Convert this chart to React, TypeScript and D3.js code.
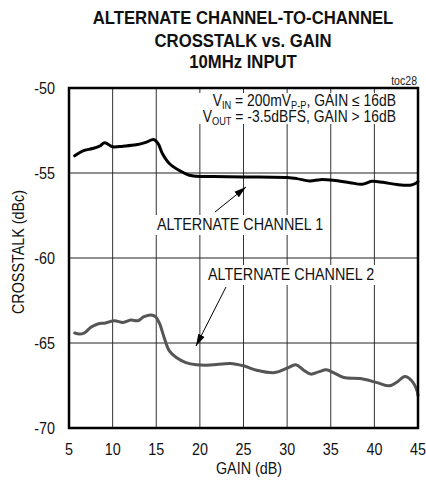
import React from "react";
import * as d3 from "d3";

const xTicks = [5, 10, 15, 20, 25, 30, 35, 40, 45];
const yTicks = [-50, -55, -60, -65, -70];

const ch1Gain = [5.65, 6.6, 7.7, 8.5, 9.1, 10.0, 11.2, 12.7, 13.8, 14.7, 15.2, 15.7, 16.5, 17.6, 18.8, 19.6, 21.5, 25.0, 30.0, 31.1, 32.6, 33.8, 35.3, 37.2, 38.6, 39.7, 41.0, 42.6, 44.1, 44.7, 45.0];
const ch1Val = [-53.99, -53.7, -53.56, -53.42, -53.22, -53.46, -53.42, -53.34, -53.2, -53.03, -53.26, -53.85, -54.44, -54.84, -55.13, -55.19, -55.2, -55.23, -55.27, -55.33, -55.47, -55.39, -55.43, -55.57, -55.66, -55.49, -55.55, -55.68, -55.72, -55.62, -55.5];

const ch2Gain = [5.65, 6.2, 6.75, 7.5, 8.3, 9.2, 10.2, 11.2, 12.1, 12.9, 13.6, 14.4, 14.9, 15.4, 15.9, 16.5, 17.3, 18.4, 19.6, 21.2, 23.5, 25.0, 26.5, 28.6, 30.0, 31.0, 31.9, 32.7, 33.6, 34.5, 35.3, 36.5, 38.4, 40.3, 41.7, 42.6, 43.5, 44.3, 44.9, 45.0];
const ch2Val = [-64.41, -64.47, -64.41, -64.08, -63.88, -63.82, -63.69, -63.79, -63.65, -63.69, -63.45, -63.35, -63.45, -63.88, -64.67, -65.46, -65.85, -66.15, -66.28, -66.3, -66.2, -66.34, -66.6, -66.74, -66.48, -66.28, -66.6, -66.83, -66.7, -66.58, -66.74, -67.03, -67.09, -67.33, -67.52, -67.29, -66.97, -67.23, -67.82, -68.1];

const W = 426;
const H = 491;
const M = { left: 69, right: 418, top: 88, bottom: 428 };
const FONT = "'Liberation Sans', Arial, sans-serif";
const SX = 0.88;

function NT(props: { x: number; y: number; size: number; anchor?: string; bold?: boolean; rotate?: number; sx?: number; children: React.ReactNode; fill?: string }) {
  const { x, y, size, anchor = "start", bold, rotate = 0, sx = SX, children, fill = "#111" } = props;
  return (
    <text
      transform={`translate(${x},${y})${rotate ? ` rotate(${rotate})` : ""} scale(${sx},1)`}
      fontSize={size}
      fontWeight={bold ? "bold" : "normal"}
      textAnchor={anchor}
      fill={fill}
    >
      {children}
    </text>
  );
}

export default function App() {
  const x = d3.scaleLinear().domain([5, 45]).range([M.left, M.right]);
  const y = d3.scaleLinear().domain([-70, -50]).range([M.bottom, M.top]);
  const line = d3
    .line<[number, number]>()
    .x((d) => x(d[0]))
    .y((d) => y(d[1]))
    .curve(d3.curveCatmullRom.alpha(0.5));
  const d1 = line(ch1Gain.map((g, i) => [g, ch1Val[i]] as [number, number])) || "";
  const d2 = line(ch2Gain.map((g, i) => [g, ch2Val[i]] as [number, number])) || "";

  return (
    <svg width={W} height={H} style={{ position: "absolute", left: 0, top: 0, background: "#fff" }} fontFamily={FONT}>
      <defs>
        <marker id="ah" viewBox="0 0 12 8" refX="12" refY="4" markerWidth="12" markerHeight="8" markerUnits="userSpaceOnUse" orient="auto">
          <path d="M0,0.5 L12,4 L0,7.5 Z" fill="#000" />
        </marker>
      </defs>
      <rect x={0} y={0} width={W} height={H} fill="#fff" />
      <NT x={243} y={24} size={19} bold anchor="middle">ALTERNATE CHANNEL-TO-CHANNEL</NT>
      <NT x={243} y={47} size={19} bold anchor="middle">CROSSTALK vs. GAIN</NT>
      <NT x={243} y={68} size={19} bold anchor="middle">10MHz INPUT</NT>
      <NT x={417} y={85} size={12} anchor="end" fill="#222">toc28</NT>

      {xTicks.slice(1, -1).map((t) => (
        <line key={"vx" + t} x1={x(t)} x2={x(t)} y1={M.top} y2={M.bottom} stroke="#333" strokeWidth={1} />
      ))}
      {yTicks.slice(1, -1).map((t) => (
        <line key={"hy" + t} x1={M.left} x2={M.right} y1={y(t)} y2={y(t)} stroke="#222" strokeWidth={1} />
      ))}

      {/* annotation backgrounds */}
      <rect x={196} y={93} width={202} height={31} fill="#fff" />
      <rect x={154} y={215} width={174} height={20} fill="#fff" />
      <rect x={205} y={265} width={176} height={20} fill="#fff" />

      <NT x={396} y={106} size={15.8} anchor="end">
        V<tspan fontSize={10.5} dy={2.5}>IN</tspan>
        <tspan dy={-2.5}> = 200mV</tspan>
        <tspan fontSize={10.5} dy={2.5}>P-P</tspan>
        <tspan dy={-2.5}>, GAIN ≤ 16dB</tspan>
      </NT>
      <NT x={396} y={122} size={15.8} anchor="end">
        V<tspan fontSize={10.5} dy={2.5}>OUT</tspan>
        <tspan dy={-2.5}> = -3.5dBFS, GAIN &gt; 16dB</tspan>
      </NT>

      <NT x={157} y={230} size={16.3}>ALTERNATE CHANNEL 1</NT>
      <NT x={208} y={280} size={16.3}>ALTERNATE CHANNEL 2</NT>
      <line x1={215} y1={212} x2={246} y2={187} stroke="#000" strokeWidth={1} markerEnd="url(#ah)" />
      <line x1={226} y1={287} x2={196} y2={346} stroke="#000" strokeWidth={1} markerEnd="url(#ah)" />

      <path d={d2} fill="none" stroke="#555" strokeWidth={3} strokeLinejoin="round" strokeLinecap="round" />
      <path d={d1} fill="none" stroke="#000" strokeWidth={3} strokeLinejoin="round" strokeLinecap="round" />

      <rect x={M.left} y={M.top} width={M.right - M.left} height={M.bottom - M.top} fill="none" stroke="#000" strokeWidth={2.5} />

      {yTicks.map((t) => (
        <NT key={"yt" + t} x={55} y={y(t) + 6} size={16.3} anchor="end">{t}</NT>
      ))}
      {xTicks.map((t) => (
        <NT key={"xt" + t} x={x(t)} y={455} size={16.3} anchor="middle">{t}</NT>
      ))}
      <NT x={249} y={474} size={16.3} anchor="middle">GAIN (dB)</NT>
      <NT x={24} y={252} size={16.3} anchor="middle" rotate={-90}>CROSSTALK (dBc)</NT>
    </svg>
  );
}
